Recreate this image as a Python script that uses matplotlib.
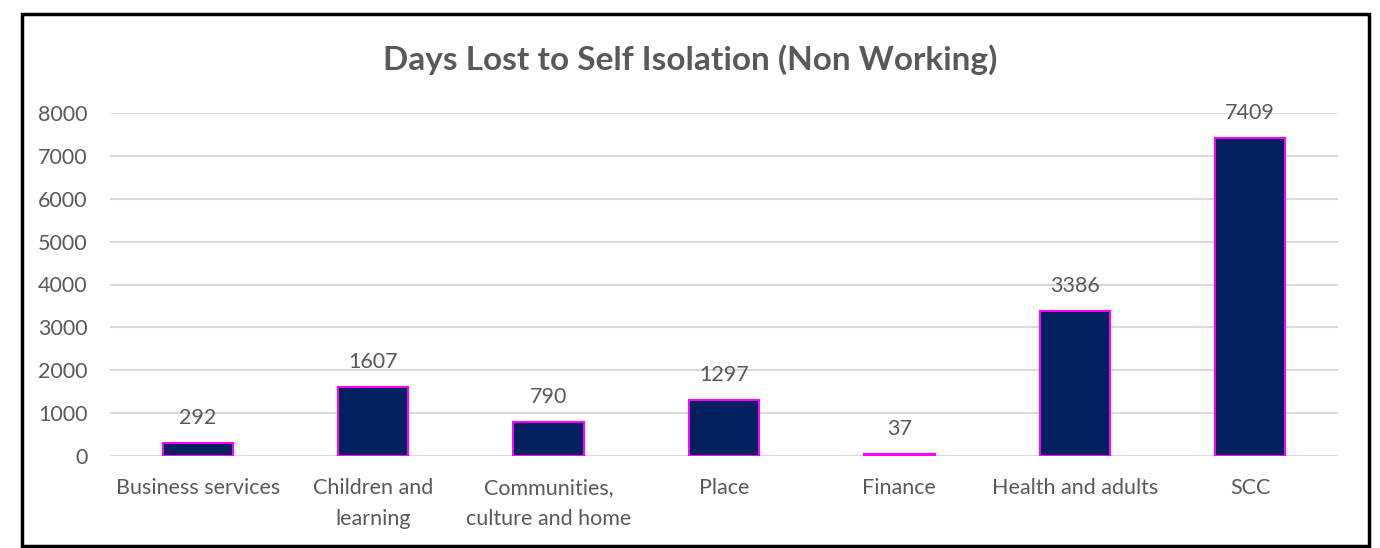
import matplotlib.pyplot as plt
from matplotlib.patches import Rectangle

categories = ['Business services', 'Children and\nlearning', 'Communities,\nculture and home',
              'Place', 'Finance', 'Health and adults', 'SCC']
days_lost = [292, 1607, 790, 1297, 37, 3386, 7409]

TITLE = 'Days Lost to Self Isolation (Non Working)'
BAR_COLOR = '#002060'
EDGE_COLOR = '#FF00FF'
TEXT_COLOR = '#595959'
GRID_COLOR = '#D9D9D9'

plt.rcParams['font.family'] = ['Lato', 'DejaVu Sans']

fig = plt.figure(figsize=(13.8, 5.48), dpi=100)
ax = fig.add_axes([110 / 1380, 1 - 456 / 548, 1228 / 1380, (456 - 113) / 548])

x = range(len(categories))
bars = ax.bar(x, days_lost, width=0.4, color=BAR_COLOR, edgecolor=EDGE_COLOR, linewidth=1.5, zorder=3)

for rect, val in zip(bars, days_lost):
    ax.annotate(str(val), (rect.get_x() + rect.get_width() / 2, rect.get_height()),
                xytext=(0, 18), textcoords='offset points', ha='center', va='center',
                fontsize=15.5, color=TEXT_COLOR)

ax.set_xlim(-0.5, len(categories) - 0.5)
ax.set_ylim(0, 8000)
ax.set_yticks(range(0, 8001, 1000))
ax.set_xticks(list(x))
ax.set_xticklabels(categories, linespacing=1.65)
ax.tick_params(axis='both', length=0, labelsize=15.5, labelcolor=TEXT_COLOR)
ax.tick_params(axis='x', pad=16)
ax.tick_params(axis='y', pad=16)
ax.grid(axis='y', color=GRID_COLOR, linewidth=1.5, zorder=0)
for s in ax.spines.values():
    s.set_visible(False)

fig.text(0.5, 1 - 60 / 548, TITLE, ha='center', va='center', fontsize=24,
         fontweight='bold', color=TEXT_COLOR)

# Outer border
fig.patches.append(Rectangle((22 / 1380, 1 - 546 / 548), 1347 / 1380, 532 / 548,
                             transform=fig.transFigure, fill=False, edgecolor='black', linewidth=2.5))

fig.savefig('out.png', dpi=100)
